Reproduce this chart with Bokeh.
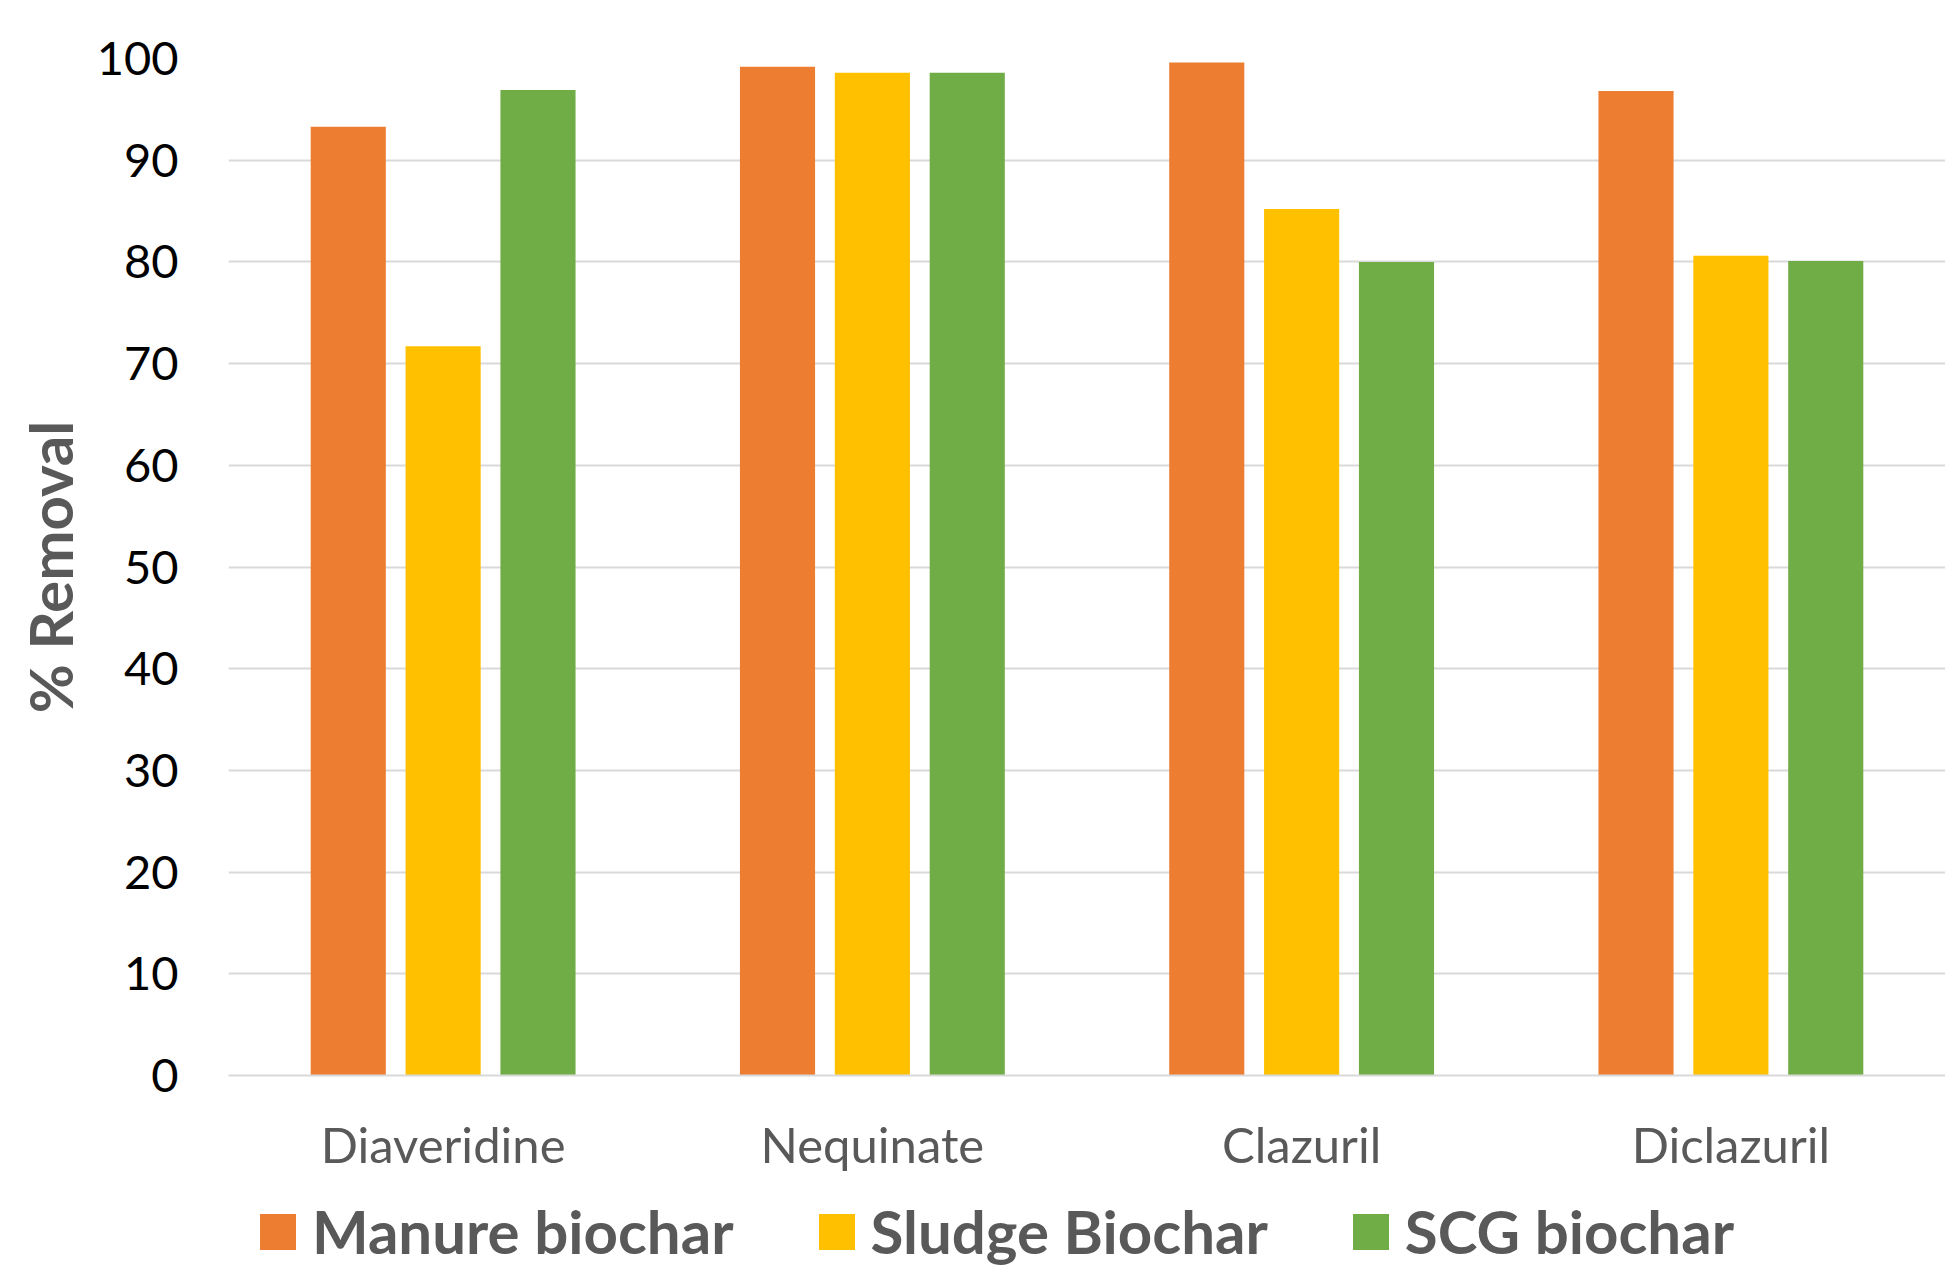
from bokeh.plotting import figure
from bokeh.layouts import column
from bokeh.models import ColumnDataSource, FactorRange, Range1d, Legend, LegendItem, SingleIntervalTicker
from bokeh.transform import dodge
from bokeh.embed import file_html
from bokeh.resources import INLINE

categories = ["Diaveridine", "Nequinate", "Clazuril", "Diclazuril"]
series_names = ["Manure biochar", "Sludge Biochar", "SCG biochar"]
manure = [93.3, 99.2, 99.6, 96.8]
sludge = [71.7, 98.6, 85.2, 80.6]
scg = [96.9, 98.6, 80.0, 80.1]
colors = ["#ED7D31", "#FFC000", "#70AD47"]

source = ColumnDataSource(data=dict(cat=categories, manure=manure, sludge=sludge, scg=scg))

FONT = "Lato"
GRAY = "#595959"
W = 1945
cols = ["manure", "sludge", "scg"]
offsets = [-0.221, 0.0, 0.221]

p = figure(x_range=FactorRange(*categories, range_padding=0), y_range=Range1d(0, 100),
           width=W, height=1175, output_backend="svg", toolbar_location=None,
           min_border_left=228, min_border_top=58, min_border_right=0, min_border_bottom=100)
p.outline_line_color = None
p.background_fill_color = "white"
p.border_fill_color = "white"

for col, off, c in zip(cols, offsets, colors):
    p.vbar(x=dodge("cat", off, range=p.x_range), top=col, width=0.175, source=source,
           fill_color=c, line_color=None)

p.xgrid.grid_line_color = None
p.ygrid.grid_line_color = "#D9D9D9"
p.ygrid.grid_line_width = 2
p.yaxis.ticker = SingleIntervalTicker(interval=10)

p.yaxis.axis_line_color = None
p.yaxis.major_tick_line_color = None
p.yaxis.minor_tick_line_color = None
p.yaxis.major_label_text_font = FONT
p.yaxis.major_label_text_font_size = "47px"
p.yaxis.major_label_text_color = "black"
p.yaxis.major_label_standoff = 44
p.yaxis.axis_label = "% Removal"
p.yaxis.axis_label_text_font = FONT
p.yaxis.axis_label_text_font_size = "60px"
p.yaxis.axis_label_text_font_style = "bold"
p.yaxis.axis_label_text_color = GRAY
p.yaxis.axis_label_standoff = 8

p.xaxis.axis_line_color = "#D9D9D9"
p.xaxis.axis_line_width = 2
p.xaxis.major_tick_line_color = None
p.xaxis.minor_tick_line_color = None
p.xaxis.major_label_text_font = FONT
p.xaxis.major_label_text_font_size = "49px"
p.xaxis.major_label_text_color = GRAY
p.xaxis.major_label_standoff = 33

# legend strip below the chart (same bars, drawn out of this strip's view)
lg = figure(width=W, height=92, output_backend="svg", toolbar_location=None,
            x_range=FactorRange(*categories, range_padding=0), y_range=Range1d(200, 300),
            x_axis_type=None, y_axis_type=None, min_border=0)
lg.outline_line_color = None
lg.xgrid.grid_line_color = None
lg.ygrid.grid_line_color = None
items = []
for n, col, off, c in zip(series_names, cols, offsets, colors):
    r = lg.vbar(x=dodge("cat", off, range=lg.x_range), top=col, width=0.175, source=source,
                fill_color=c, line_color=None)
    items.append(LegendItem(label=n, renderers=[r]))
legend = Legend(items=items, orientation="horizontal", location=(27, 0))
legend.label_text_font = FONT
legend.label_text_font_size = "60px"
legend.label_text_font_style = "bold"
legend.label_text_color = GRAY
legend.glyph_width = 45
legend.glyph_height = 45
legend.label_standoff = 12
legend.spacing = 80
legend.padding = 0
legend.margin = 0
legend.border_line_color = None
legend.background_fill_alpha = 0
lg.add_layout(legend, "center")

layout = column(p, lg, spacing=0)
open("out.html", "w").write(file_html(layout, INLINE))
